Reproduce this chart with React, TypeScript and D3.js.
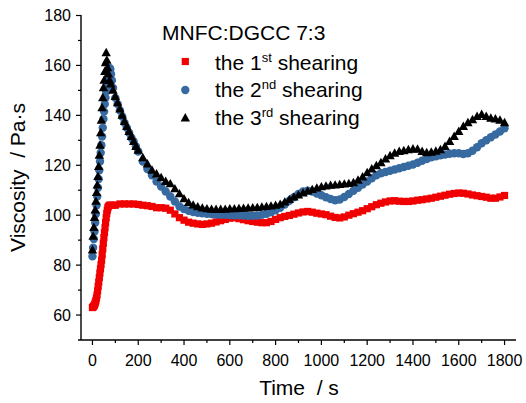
import React from "react";
import * as d3 from "d3";

// ---- data (time s, viscosity Pa·s) ----
const FIRST: [number, number][] = [
  [0, 63], [2.5, 63.2], [5, 63.5], [7.5, 63.8], [10, 64.3], [12.5, 65], [15, 65.8], [17.5, 66.8], [20, 68],
  [22.5, 69.7], [25, 71.5], [27.5, 73.2], [30, 75], [32.5, 76.8], [35, 78.5], [37.5, 80.2], [40, 82], [42.5, 84.2],
  [45, 86.5], [47.5, 88.8], [50, 91], [52.5, 93], [55, 95], [57.5, 97], [60, 99], [62.5, 100.7], [65, 102],
  [67.5, 103], [70, 103.6], [75, 104], [80, 104], [90, 104], [100, 104], [120, 104.5],
  [140, 104.5], [160, 104.5], [180, 104.5], [200, 104.3], [220, 104], [240, 103.8], [260, 103.5], [280, 103],
  [300, 103], [320, 102.8], [340, 102], [360, 100.5], [380, 99], [400, 98], [420, 97.2], [440, 96.8], [460, 96.5],
  [480, 96.3], [500, 96.5], [520, 96.8], [540, 97.3], [560, 97.8], [580, 98.3], [600, 98.8], [620, 99], [640, 98.6],
  [660, 98.2], [680, 97.8], [700, 97.5], [720, 97.2], [740, 97], [760, 97], [780, 97.5], [800, 98.3], [820, 99],
  [840, 99.5], [860, 99.9], [880, 100.4], [900, 100.9], [920, 101.3], [940, 101.5], [960, 101.2], [980, 100.8],
  [1000, 100.5], [1020, 100.2], [1040, 99.6], [1060, 99.1], [1080, 98.9], [1100, 99.3], [1120, 100], [1140, 100.6],
  [1160, 101.2], [1180, 101.8], [1200, 102.6], [1220, 103.4], [1240, 104.2], [1260, 104.8], [1280, 105.3],
  [1300, 105.7], [1320, 105.8], [1340, 105.6], [1360, 105.5], [1380, 105.5], [1400, 105.7], [1420, 106],
  [1440, 106.2], [1460, 106.5], [1480, 106.8], [1500, 107.2], [1520, 107.6], [1540, 108], [1560, 108.4],
  [1580, 108.7], [1600, 108.9], [1620, 108.8], [1640, 108.5], [1660, 108.1], [1680, 107.8], [1700, 107.5],
  [1720, 107.2], [1740, 106.8], [1760, 106.8], [1780, 107.3], [1800, 107.9],
];

const SECOND: [number, number][] = [
  [0, 83.5], [3, 87], [6, 90.5], [9, 93.5], [12, 97], [15, 100.5], [18, 104], [21, 107.5], [24, 111], [27, 114.5],
  [30, 118], [33, 121.5], [36, 125], [39, 128], [42, 131.5], [45, 135], [48, 138.5], [51, 141.5], [54, 144.5],
  [57, 147], [60, 149.5], [63, 152], [66, 154.5], [69, 156.5], [72, 158], [75, 159], [78, 158.5], [81, 156.5],
  [85, 154], [90, 151], [100, 147], [110, 144.5], [120, 142], [130, 139.5], [140, 137], [150, 135], [160, 133],
  [170, 131], [180, 129.5], [190, 127.5], [200, 125.5], [220, 121.5], [240, 118.5], [260, 116], [280, 113.5],
  [300, 111.5], [320, 109.5], [340, 107.5], [360, 105.5], [380, 103.5], [400, 102.5], [420, 101.8], [440, 101.3],
  [460, 101], [480, 100.8], [500, 100.6], [520, 100.5], [540, 100.3], [560, 100.2], [580, 100.2], [600, 100.1],
  [620, 100], [640, 100], [660, 99.9], [680, 99.8], [700, 99.8], [720, 99.9], [740, 100.2], [760, 100.6],
  [780, 101.2], [800, 102], [820, 103], [840, 104.3], [860, 105.8], [880, 107.2], [900, 108.5], [920, 109.5],
  [940, 109.8], [960, 109.5], [980, 108.7], [1000, 108], [1020, 107.2], [1040, 106.5], [1060, 106], [1080, 106.3],
  [1100, 107.3], [1120, 108.5], [1140, 109.8], [1160, 111], [1180, 112.3], [1200, 113.5], [1220, 114.8],
  [1240, 116], [1260, 116.8], [1280, 117.3], [1300, 117.8], [1320, 118.3], [1340, 118.8], [1360, 119.3],
  [1380, 119.8], [1400, 120.3], [1420, 121], [1440, 121.8], [1460, 122.5], [1480, 123.2], [1500, 123.6],
  [1520, 124], [1540, 124.3], [1560, 124.6], [1580, 124.8], [1600, 124.8], [1620, 124.5], [1640, 124.8],
  [1660, 125.8], [1680, 127.2], [1700, 128.8], [1720, 130], [1740, 131.2], [1760, 132.3], [1780, 133.5],
  [1800, 134.8],
];

const THIRD: [number, number][] = [
  [0, 86], [3, 91.5], [6, 95], [9, 99], [12, 102], [15, 105.5], [18, 109], [21, 112], [24, 115.5], [27, 119.5],
  [30, 124], [33, 128], [36, 133], [39, 138], [42, 143], [45, 147], [48, 151], [51, 154], [54, 157.5], [57, 161],
  [60, 165], [63, 162], [66, 159], [70, 156.5], [75, 154], [80, 152.5], [90, 150], [100, 147.5], [110, 145],
  [120, 142.5], [130, 140], [140, 137.5], [150, 135.5], [160, 133.5], [170, 131.5], [180, 129.5], [190, 127.5],
  [200, 126], [220, 123], [240, 120.5], [260, 118], [280, 116.5], [300, 115], [320, 113.5], [340, 112.5],
  [360, 110.5], [380, 108.5], [400, 106.5], [420, 105], [440, 104], [460, 103.3], [480, 102.8], [500, 102.5],
  [520, 102.3], [540, 102.2], [560, 102.2], [580, 102.3], [600, 102.5], [620, 102.5], [640, 102.6], [660, 102.7],
  [680, 102.8], [700, 102.9], [720, 103], [740, 103.2], [760, 103.4], [780, 103.6], [800, 103.9], [820, 104.3],
  [840, 105.2], [860, 106.2], [880, 107.2], [900, 108], [920, 108.8], [940, 109.6], [960, 110.2], [980, 110.8],
  [1000, 111.3], [1020, 111.6], [1040, 111.9], [1060, 112], [1080, 112.2], [1100, 112.4], [1120, 112.6],
  [1140, 113], [1160, 114], [1180, 115.3], [1200, 117], [1220, 118.5], [1240, 119.8], [1260, 121], [1280, 122.5],
  [1300, 123.8], [1320, 124.8], [1340, 125.5], [1360, 125.8], [1380, 126.2], [1400, 126.5], [1420, 126.4],
  [1440, 125.5], [1460, 125], [1480, 125.2], [1500, 125.6], [1520, 126.2], [1540, 127.5], [1560, 129.5],
  [1580, 131.5], [1600, 133.5], [1620, 135.5], [1640, 137], [1660, 138.2], [1680, 139.5], [1700, 140.3],
  [1720, 139.5], [1740, 138.8], [1760, 138.5], [1780, 138], [1800, 137],
];

const X_TICKS = [0, 200, 400, 600, 800, 1000, 1200, 1400, 1600, 1800];
const X_MINOR = [100, 300, 500, 700, 900, 1100, 1300, 1500, 1700];
const Y_TICKS = [60, 80, 100, 120, 140, 160, 180];
const Y_MINOR = [70, 90, 110, 130, 150, 170];

const LEGEND_TITLE = "MNFC:DGCC 7:3";
const LEGEND = [
  { n: "1", sup: "st" },
  { n: "2", sup: "nd" },
  { n: "3", sup: "rd" },
];

const RED = "#f00000";
const BLUE = "#366aa0";
const BLACK = "#000000";
const FONT = "Arial, 'Liberation Sans', sans-serif";

export default function App() {
  const x = d3.scaleLinear().domain([-50, 1850]).range([81, 516]);
  const y = d3.scaleLinear().domain([50, 180]).range([340, 15.5]);
  const x0 = 81;
  const y0 = 340;

  const tri = (cx: number, cy: number, w = 9.4) => {
    const h = w * 0.9;
    return `M${cx},${cy - h * 0.6}L${cx + w / 2},${cy + h * 0.4}L${cx - w / 2},${cy + h * 0.4}Z`;
  };

  const legendMarkers = [
    (cx: number, cy: number) => <rect x={cx - 3.6} y={cy - 3.6} width={7.2} height={7.2} fill={RED} />,
    (cx: number, cy: number) => <circle cx={cx} cy={cy} r={4.2} fill={BLUE} />,
    (cx: number, cy: number) => <path d={tri(cx, cy)} fill={BLACK} />,
  ];
  const legendBase = [69.5, 97, 125];
  const legendMarkerY = [61.5, 90, 118];

  return (
    <svg width={526} height={403} style={{ position: "absolute", left: 0, top: 0, background: "#fff" }} fontFamily={FONT}>
      <rect width={526} height={403} fill="#fff" />
      {/* series */}
      <g>
        {FIRST.map(([t, v], i) => (
          <rect key={"r" + i} x={x(t) - 3.6} y={y(v) - 3.6} width={7.2} height={7.2} fill={RED} />
        ))}
      </g>
      <g>
        {SECOND.map(([t, v], i) => (
          <circle key={"b" + i} cx={x(t)} cy={y(v)} r={4.2} fill={BLUE} />
        ))}
      </g>
      <g>
        {THIRD.map(([t, v], i) => (
          <path key={"k" + i} d={tri(x(t), y(v))} fill={BLACK} />
        ))}
      </g>

      {/* axes */}
      <line x1={78} x2={516} y1={y0} y2={y0} stroke="#000" strokeWidth={1.4} />
      <line x1={x0} x2={x0} y1={15} y2={y0} stroke="#000" strokeWidth={1.4} />
      {X_TICKS.map((t) => (
        <g key={"xt" + t}>
          <line x1={x(t)} x2={x(t)} y1={y0} y2={y0 + 5} stroke="#000" strokeWidth={1.2} />
          <text x={x(t)} y={365.5} fontSize={16} textAnchor="middle" fill="#000">{t}</text>
        </g>
      ))}
      {X_MINOR.map((t) => (
        <line key={"xm" + t} x1={x(t)} x2={x(t)} y1={y0} y2={y0 + 3} stroke="#000" strokeWidth={1.2} />
      ))}
      {Y_TICKS.map((v) => (
        <g key={"yt" + v}>
          <line x1={x0 - 5} x2={x0} y1={y(v)} y2={y(v)} stroke="#000" strokeWidth={1.2} />
          <text x={71} y={y(v)} fontSize={16} textAnchor="end" dominantBaseline="central" fill="#000">{v}</text>
        </g>
      ))}
      {Y_MINOR.map((v) => (
        <line key={"ym" + v} x1={x0 - 3} x2={x0} y1={y(v)} y2={y(v)} stroke="#000" strokeWidth={1.2} />
      ))}

      {/* axis titles */}
      <text x={299} y={395} fontSize={21} textAnchor="middle" fill="#000">{"Time\u00a0\u00a0/ s"}</text>
      <text transform="translate(25,177.5) rotate(-90)" fontSize={21} textAnchor="middle" fill="#000">
        {"Viscosity\u00a0\u00a0/ Pa·s"}
      </text>

      {/* legend */}
      <text x={162} y={40} fontSize={21} fill="#000">{LEGEND_TITLE}</text>
      {LEGEND.map((l, i) => (
        <g key={"lg" + i}>
          {legendMarkers[i](185.3, legendMarkerY[i])}
          <text x={215} y={legendBase[i]} fontSize={21} fill="#000">
            {"the " + l.n}
            <tspan fontSize={13} dy={-8}>{l.sup}</tspan>
            <tspan dy={8}>{" shearing"}</tspan>
          </text>
        </g>
      ))}
    </svg>
  );
}
